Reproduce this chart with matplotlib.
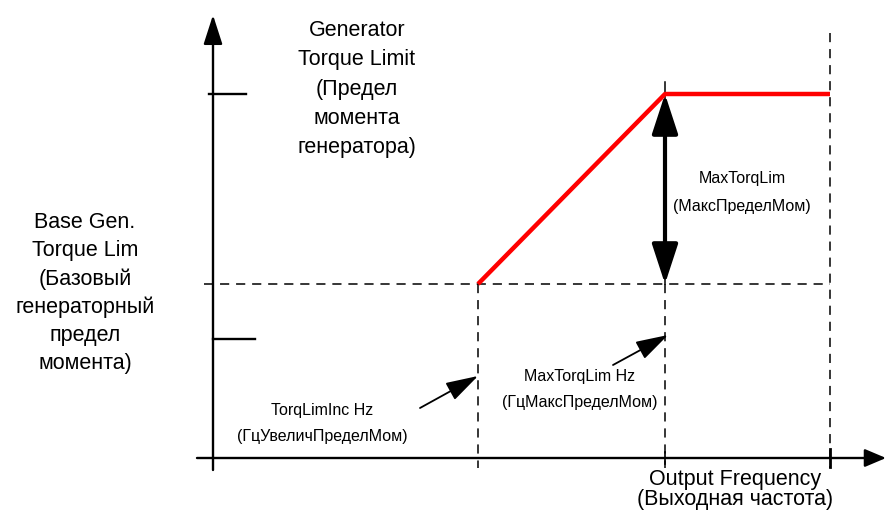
import matplotlib.pyplot as plt

plt.rcParams['font.family'] = ['Liberation Sans', 'DejaVu Sans']

# схема: частоты и уровни момента (в единицах рисунка)
freq_marks = [478, 665, 830]          # TorqLimInc Hz, MaxTorqLim Hz, конец графика
torque_curve = [230, 420, 420]        # ограничение момента генератора
base_lim = 230
max_lim = 420
low_tick = 175
axis_y = 56
axis_x = 213

fig = plt.figure(figsize=(8.86, 5.14), dpi=100)
ax = fig.add_axes([0, 0, 1, 1])
ax.set_xlim(0, 886)
ax.set_ylim(0, 514)
ax.axis('off')

# оси со стрелками
ax.annotate('', xy=(886, axis_y), xytext=(197, axis_y),
            arrowprops=dict(arrowstyle='-|>,head_length=1.3,head_width=0.55',
                            lw=1.7, color='black', mutation_scale=10, shrinkA=0, shrinkB=0))
ax.annotate('', xy=(axis_x, 499), xytext=(axis_x, 44),
            arrowprops=dict(arrowstyle='-|>,head_length=1.8,head_width=0.58',
                            lw=1.7, color='black', mutation_scale=10, shrinkA=0, shrinkB=0))

# засечки на оси момента
ax.plot([209, 246], [max_lim, max_lim], color='black', lw=1.7)
ax.plot([axis_x, 255], [low_tick, low_tick], color='black', lw=1.7)
ax.plot([freq_marks[2], freq_marks[2]], [axis_y - 9, axis_y + 9], color='black', lw=2)
ax.plot([freq_marks[1], freq_marks[1]], [axis_y - 6, axis_y + 6], color='black', lw=1.2)

# пунктирные линии
dash = dict(color='black', lw=1.1, dashes=(6, 4.5))
ax.plot([204, freq_marks[2]], [base_lim, base_lim], **dash)
ax.plot([freq_marks[0], freq_marks[0]], [base_lim, 46], **dash)
ax.plot([freq_marks[1], freq_marks[1]], [base_lim, 46], **dash)
ax.plot([freq_marks[2], freq_marks[2]], [481, 46], **dash)
ax.plot([freq_marks[1], freq_marks[1]], [max_lim + 12, base_lim], color='black', lw=1.1)

# кривая ограничения момента
ax.plot(freq_marks, torque_curve, color='#ff0000', lw=3.2, solid_capstyle='butt', zorder=5)

# двунаправленная стрелка MaxTorqLim
ax.annotate('', xy=(freq_marks[1], max_lim), xytext=(freq_marks[1], base_lim),
            arrowprops=dict(arrowstyle='<|-|>,head_length=2.45,head_width=0.8',
                            lw=3, color='black', mutation_scale=10, shrinkA=0, shrinkB=0),
            zorder=4)

# подписи
big = 15.5
small = 11.5


def lines(x, y_top, rows, step, size):
    for i, row in enumerate(rows):
        ax.text(x, y_top - i * step, row, ha='center', va='center', fontsize=size)


lines(357, 484, ['Generator', 'Torque Limit', '(Предел', 'момента', 'генератора)'], 29.5, big)
lines(85, 292, ['Base Gen.', 'Torque Lim', '(Базовый', 'генераторный', 'предел', 'момента)'], 28.4, big)
lines(735, 35, ['Output Frequency', '(Выходная частота)'], 21, big)
lines(742, 335, ['MaxTorqLim', '(МаксПределМом)'], 27, small)
lines(580, 137, ['MaxTorqLim Hz', '(ГцМаксПределМом)'], 26, small)
lines(322, 104, ['TorqLimInc Hz', '(ГцУвеличПределМом)'], 27, small)

# стрелки к частотам
small_arrow = dict(arrowstyle='-|>,head_length=2.0,head_width=0.6',
                   lw=1.3, color='black', mutation_scale=10, shrinkA=0, shrinkB=0)
ax.annotate('', xy=(freq_marks[0], 138), xytext=(420, 106), arrowprops=small_arrow)
ax.annotate('', xy=(freq_marks[1] + 3, 179), xytext=(613, 149), arrowprops=small_arrow)

fig.savefig('out.png', dpi=100)
